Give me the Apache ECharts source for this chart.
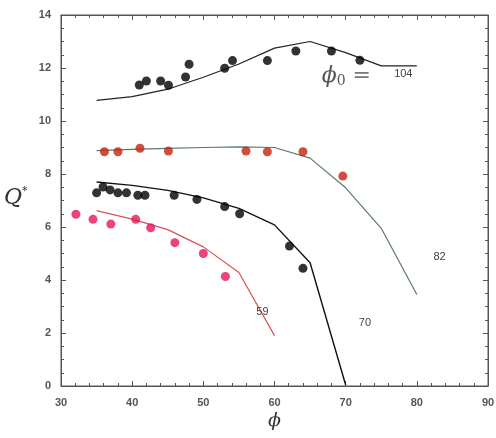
<!DOCTYPE html>
<html>
<head>
<meta charset="utf-8">
<script src="https://cdn.jsdelivr.net/npm/echarts@6/dist/echarts.min.js"></script>
<style>
  html, body { margin: 0; padding: 0; background: #fff; }
  .layer { position: absolute; left: 0; top: 0; width: 496px; height: 438px; }
</style>
</head>
<body>
<div id="frame" class="layer"></div>
<div id="chart" class="layer"></div>
<script>
// model curves, sampled every 5 degrees of phi
const phiModel = [35, 40, 45, 50, 55, 60, 65, 70, 75, 80];
const q104 = [10.78, 10.92, 11.2, 11.65, 12.15, 12.75, 13.0, 12.58, 12.08, 12.08];
const q82 = [8.88, 8.93, 8.97, 9.0, 9.02, 9.0, 8.6, 7.48, 5.95, 3.45];
const q70 = [7.7, 7.57, 7.38, 7.1, 6.7, 6.08, 4.65, 0.04];
const q59 = [6.62, 6.3, 5.9, 5.25, 4.28, 1.9];

// measured points
const dots104X = [41.0, 42.0, 44.0, 45.1, 47.5, 48.0, 53.0, 54.1, 59.0, 63.0, 68.0, 72.0];
const dots104Y = [11.36, 11.51, 11.51, 11.35, 11.66, 12.14, 11.99, 12.28, 12.28, 12.64, 12.64, 12.29];
const dots82X = [36.1, 38.0, 41.1, 45.1, 56.0, 59.0, 64.0, 69.6];
const dots82Y = [8.84, 8.84, 8.97, 8.87, 8.87, 8.84, 8.84, 7.92];
const dots70X = [35.0, 35.9, 36.9, 38.0, 39.2, 40.8, 41.8, 45.9, 49.1, 53.0, 55.1, 62.1, 64.0];
const dots70Y = [7.29, 7.51, 7.4, 7.29, 7.29, 7.2, 7.2, 7.2, 7.04, 6.77, 6.5, 5.28, 4.44];
const dots59X = [32.1, 34.5, 37.0, 40.5, 42.6, 46.0, 50.0, 53.1];
const dots59Y = [6.48, 6.29, 6.11, 6.29, 5.97, 5.41, 5.0, 4.13];

// curve labels (phi0 values)
const curveLabels = ['59', '70', '82', '104'];
const labelPhi = [58.3, 72.7, 83.2, 78.1];
const labelQ = [2.8, 2.36, 4.86, 11.76];

const pairs = (xs, ys) => ys.map((y, i) => [xs[i], y]);
const grid = { left: 61, right: 8, top: 15, bottom: 52, outerBoundsMode: 'none' };

function axisParts(show, minorSplit) {
  return {
    axisLine: { show: true, onZero: false, lineStyle: { color: '#555', width: 1 } },
    axisTick: { show: true, inside: true, length: 5, lineStyle: { color: '#555', width: 1 } },
    minorTick: { show: true, splitNumber: minorSplit, length: 3, lineStyle: { color: '#555', width: 1 } },
    axisLabel: { show: show, margin: 11, color: '#555', fontSize: 11, fontWeight: 'bold', fontFamily: 'Liberation Sans, Arial' },
    splitLine: { show: false }
  };
}
function xAx(pos, show) {
  return Object.assign({ type: 'value', position: pos, min: 30, max: 90, interval: 10 }, axisParts(show, 5));
}
function yAx(pos, show) {
  return Object.assign({ type: 'value', position: pos, min: 0, max: 14, interval: 2 }, axisParts(show, 4));
}
function line(name, ys, color, w) {
  return {
    name: name, type: 'line', data: pairs(phiModel, ys), showSymbol: false, symbol: 'none',
    lineStyle: { color: color, width: w }, z: 2, silent: true
  };
}
function dots(name, xs, ys, color) {
  return {
    name: name, type: 'scatter', data: pairs(xs, ys), symbolSize: 9,
    itemStyle: { color: color }, z: 3
  };
}

// bottom layer: frame with ticks on all four sides and the upper curves
const frame = echarts.init(document.getElementById('frame'));
const yLeft = yAx('left', true);
yLeft.axisLabel.margin = 10;
frame.setOption({
  animation: false,
  grid: Object.assign({ show: true, borderColor: '#555', borderWidth: 1 }, grid),
  xAxis: [xAx('bottom', true), xAx('top', false)],
  yAxis: [yLeft, yAx('right', false)],
  series: [
    line('104', q104, '#222', 1.2),
    line('82', q82, '#5b7a68', 1.2),
    dots('104 data', dots104X, dots104Y, '#000')
  ]
});

// top layer: same coordinate system, axes hidden
const chart = echarts.init(document.getElementById('chart'));
chart.setOption({
  animation: false,
  backgroundColor: 'transparent',
  grid: grid,
  xAxis: { type: 'value', min: 30, max: 90, interval: 10, show: false },
  yAxis: { type: 'value', min: 0, max: 14, interval: 2, show: false },
  series: [
    line('70', q70, '#111', 1.4),
    line('59', q59, '#dd5050', 1.2),
    dots('82 data', dots82X, dots82Y, '#c4220e'),
    dots('70 data', dots70X, dots70Y, '#000'),
    dots('59 data', dots59X, dots59Y, '#e6145c')
  ]
});

// text annotations, placed through the chart's own coordinate system
const toPx = (x, y) => chart.convertToPixel({ xAxisIndex: 0, yAxisIndex: 0 }, [x, y]);
const texts = curveLabels.map((t, i) => {
  const p = toPx(labelPhi[i], labelQ[i]);
  return {
    type: 'text', x: p[0], y: p[1], z: 10,
    style: { text: t, align: 'center', verticalAlign: 'middle', fill: '#444', fontSize: 11, fontFamily: 'Liberation Sans, Arial' }
  };
});
const eqPos = toPx(70.1, 11.68);
texts.push({
  type: 'text', x: eqPos[0], y: eqPos[1], z: 10,
  style: {
    text: '{p|ϕ}{z|0}{e| =}', align: 'center', verticalAlign: 'middle',
    rich: {
      p: { fontFamily: 'DejaVu Serif', fontStyle: 'italic', fontSize: 22, fill: '#555' },
      z: { fontFamily: 'DejaVu Serif', fontSize: 14, fill: '#555', verticalAlign: 'bottom', padding: [10, 0, 0, 0] },
      e: { fontFamily: 'DejaVu Sans', fontSize: 22, fill: '#777' }
    }
  }
});
texts.push({
  type: 'text', left: 4, top: 186,
  style: {
    text: '{q|Q}{s|*}',
    rich: {
      q: { fontFamily: 'DejaVu Serif', fontStyle: 'italic', fontSize: 22, fill: '#333' },
      s: { fontFamily: 'DejaVu Serif', fontSize: 11, fill: '#333', verticalAlign: 'top', padding: [0, 0, 14, 0] }
    }
  }
});
texts.push({
  type: 'text', left: 268, top: 412,
  style: { text: 'ϕ', fontFamily: 'DejaVu Serif', fontStyle: 'italic', fontSize: 19, fill: '#333' }
});
chart.setOption({ graphic: texts });
</script>
</body>
</html>
